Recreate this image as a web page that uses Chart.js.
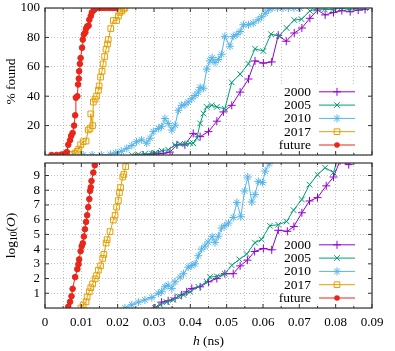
<!DOCTYPE html>
<html><head><meta charset="utf-8">
<script src="https://cdn.jsdelivr.net/npm/chart.js@4/dist/chart.umd.min.js"></script>
<style>
html,body{margin:0;padding:0;background:#fff;}
#wrap{position:relative;width:395px;height:351px;overflow:hidden;background:#fff;}
canvas{position:absolute;left:0;}
#top{top:0;}
#bot{top:158px;}
</style></head><body>
<div id="wrap"><canvas id="top" width="395" height="160"></canvas><canvas id="bot" width="395" height="193"></canvas></div>
<script>
// ---------- categories / tick labels ----------
const seriesNames = ['2000', '2005', '2010', '2017', 'future'];
const xTickLabels = ['0', '0.01', '0.02', '0.03', '0.04', '0.05', '0.06', '0.07', '0.08', '0.09'];
const pctTicks = [0, 20, 40, 60, 80, 100];
const logTicks = [0, 1, 2, 3, 4, 5, 6, 7, 8, 9];

// ---------- top panel: % found ----------
const pctH2000 = [0.027,0.0294,0.0312,0.0326,0.0344,0.0363,0.0385,0.0408,0.0427,0.045,0.0473,0.0491,0.0514,0.0537,0.056,0.0578,0.0601,0.0624,0.0642,0.0664,0.0686,0.0707,0.0729,0.075,0.0771,0.0794,0.0817,0.084,0.0862,0.0881];
const pct2000  = [0,0.5,0.8,1.2,2,6.9,6.9,14.7,12.5,15.9,23,29.3,33.8,42.8,51.7,64,62.5,63.3,81.5,77.4,83,86.4,93,98.6,95.3,96.9,98.2,97.5,98.6,99];

const pctH2005 = [0.0239,0.0257,0.0275,0.0294,0.0303,0.0321,0.0339,0.0358,0.0372,0.0385,0.0399,0.0408,0.0418,0.0427,0.0436,0.0445,0.0459,0.0473,0.0495,0.0514,0.0537,0.056,0.0578,0.0601,0.0622,0.0644,0.0665,0.0686,0.0706,0.0729,0.0748,0.077,0.0793,0.0815,0.0838,0.086,0.0881];
const pct2005  = [0,0.5,0.8,1,1.5,2.9,3.6,6.9,7.6,7.6,8,8,11.4,21.5,28.2,32.7,33.8,32.7,31.5,49.4,55,62,72.3,70.7,82.2,81,86.4,91.8,92.4,98,99.5,99,99,100,98.8,100,100];

const pctH2010 = [0.0055,0.008,0.0105,0.013,0.0155,0.018,0.0195,0.021,0.0225,0.0239,0.0252,0.0266,0.028,0.0289,0.0298,0.0312,0.0321,0.033,0.0339,0.0349,0.0358,0.0367,0.0376,0.0385,0.0394,0.0404,0.0413,0.0422,0.0427,0.0436,0.0445,0.0454,0.046,0.0468,0.0477,0.0486,0.0495,0.0509,0.0518,0.0528,0.0537,0.0546,0.056,0.0573,0.0587,0.0596,0.0606,0.0615,0.0625,0.064,0.0655,0.067,0.0685,0.0702];
const pct2010  = [0,0,0,0,0,0.5,1.5,2.5,4.5,6.5,9,10.3,8,11.4,15.9,18,19.3,24.8,21.5,17,20.3,30.4,33.8,34.2,36,38.3,40.5,42.8,46,45.4,58.4,64,66.2,62.9,65,68.5,80.7,74,80.7,82,84,88.6,88.6,89.7,92,94,96.4,98.6,100,100,100,100,100,100];

const pctH2017 = [0.006,0.0073,0.0083,0.0089,0.0093,0.0098,0.0105,0.0113,0.0119,0.0124,0.0126,0.0131,0.0133,0.0138,0.0142,0.0147,0.0149,0.0153,0.0157,0.016,0.0164,0.0168,0.0172,0.0174,0.0181,0.0188,0.0197,0.0202,0.0206,0.0211,0.0216,0.022];
const pct2017  = [0,0.5,1.3,2.5,4,7,9,9.5,17,18,28,20,36,38,40,44,47,53,57,62,67,72,75.5,78.5,86,91.5,91.5,94.5,97,98,99.3,100];

const pctHFuture = [0.0018,0.0032,0.0045,0.0055,0.006,0.0064,0.0069,0.0072,0.0076,0.008,0.0083,0.0085,0.0089,0.0091,0.0093,0.0094,0.0096,0.0098,0.0102,0.0104,0.0107,0.0111,0.0113,0.0116,0.012,0.0122,0.0126,0.0129,0.0135,0.014,0.0148,0.0156,0.0165,0.0175,0.0185,0.0193];
const pctFuture  = [0,0,0.3,1,2,7,10,13,15,20,27,39,40,48,52,57,62,66,73,78.5,82,83.5,86,87.5,88,92,94.6,97,98.7,100,100,100,100,100,100,100];

// ---------- bottom panel: log10(O) ----------
const logH2000 = [0.0303,0.0321,0.0339,0.0358,0.0376,0.039,0.0404,0.0427,0.045,0.0473,0.0495,0.0518,0.0537,0.0557,0.0577,0.0601,0.0624,0.0642,0.0667,0.0685,0.0707,0.0728,0.075,0.0774,0.0794,0.0812,0.0836,0.086];
const log2000  = [0,0.4,0.49,0.67,0.89,1.1,1.33,1.44,1.78,2.0,2.33,2.33,2.86,3.25,3.84,4.04,3.95,5.28,5.21,5.54,6.47,7.27,7.5,8.3,8.9,10.0,9.74,10.3];

const logH2005 = [0.0303,0.0317,0.0335,0.0353,0.0367,0.0381,0.0399,0.0422,0.0445,0.0454,0.0473,0.0495,0.0514,0.0535,0.0555,0.0578,0.0596,0.0619,0.0642,0.0665,0.0684,0.0707,0.0728,0.075,0.0771,0.0794,0.0805];
const log2005  = [0,0.22,0.4,0.55,0.78,0.89,1.1,1.44,1.78,2.1,2.15,2.33,2.9,3.3,3.66,4.44,4.66,5.59,5.66,5.88,6.65,7.37,8.38,9.05,9.53,9.2,10.1];

const logH2010 = [0.022,0.0239,0.0257,0.0275,0.0294,0.0312,0.0321,0.033,0.0339,0.0349,0.0358,0.0372,0.0381,0.0394,0.0404,0.0413,0.0422,0.0431,0.044,0.0449,0.046,0.0468,0.0477,0.0486,0.0495,0.0505,0.0518,0.0528,0.0539,0.0549,0.0558,0.0569,0.0578,0.0587,0.0599,0.0606,0.0617,0.0625];
const log2010  = [0,0.22,0.4,0.55,0.71,1.0,1.1,1.44,1.55,1.33,1.78,2.1,2.33,2.77,2.88,3.0,3.55,4.0,4.2,4.48,4.84,4.44,4.88,5.43,5.6,5.77,6.15,7.17,6.2,7.95,8.9,7.2,7.7,8.6,8.52,9.3,9.8,10.4];

const logH2017 = [0.0099,0.0105,0.0113,0.0116,0.0122,0.0126,0.0131,0.0138,0.0142,0.0147,0.0153,0.0159,0.0162,0.0168,0.0171,0.0179,0.0188,0.0193,0.0197,0.0202,0.0205,0.0208,0.0214,0.0217,0.0222,0.0226];
const log2017  = [0,0.2,0.42,0.75,1.1,1.38,1.64,1.98,2.2,2.57,2.86,3.37,3.64,4.41,4.64,5.19,5.97,6.3,6.85,7.3,7.85,8.18,8.9,9.07,9.6,10.2];

const logHFuture = [0.0064,0.0069,0.0073,0.0076,0.0083,0.0089,0.0092,0.0094,0.0098,0.0101,0.0104,0.0107,0.011,0.0113,0.0116,0.0119,0.0122,0.0124,0.0126,0.0128,0.0133,0.0137,0.0141];
const logFuture  = [0.09,0.42,0.8,1.3,2.1,2.64,2.97,3.3,3.86,4.2,4.4,4.86,5.35,5.85,6.3,6.85,7.4,7.96,8.2,8.63,9.2,9.7,10.3];

// ---------- styles ----------
const colors = ['#9400D3', '#009E73', '#56B4E9', '#E69F00', '#E8261A'];
const pStyles = ['cross', 'crossRot', 'star', 'rect', 'circle'];
const pRadius = [4, 4, 4, 4, 2.8];
const FONT = "'Liberation Serif', 'Times New Roman', serif";

function pairs(xs, ys) { return xs.map((x, i) => ({ x: x, y: ys[i] })); }

function makeDatasets(hs, vs) {
  return seriesNames.map((name, i) => ({
    label: name,
    data: pairs(hs[i], vs[i]),
    showLine: true,
    borderColor: colors[i],
    backgroundColor: colors[i],
    borderWidth: 1,
    pointStyle: pStyles[i],
    pointRadius: pRadius[i],
    pointHoverRadius: pRadius[i],
    pointBorderWidth: 1,
    pointBorderColor: colors[i],
    pointBackgroundColor: pStyles[i] === 'rect' ? 'rgba(0,0,0,0)' : colors[i],
    order: 5 - i,
    tension: 0
  }));
}

function drawMarker(ctx, style, x, y, r, color) {
  ctx.save();
  ctx.strokeStyle = color; ctx.fillStyle = color; ctx.lineWidth = 1;
  ctx.beginPath();
  const d = r * Math.SQRT1_2;
  if (style === 'cross' || style === 'star') {
    ctx.moveTo(x - r, y); ctx.lineTo(x + r, y);
    ctx.moveTo(x, y - r); ctx.lineTo(x, y + r);
  }
  if (style === 'crossRot' || style === 'star') {
    ctx.moveTo(x - d, y - d); ctx.lineTo(x + d, y + d);
    ctx.moveTo(x - d, y + d); ctx.lineTo(x + d, y - d);
  }
  if (style === 'rect') { ctx.rect(x - d, y - d, 2 * d, 2 * d); }
  ctx.stroke();
  if (style === 'circle') { ctx.beginPath(); ctx.arc(x, y, r, 0, Math.PI * 2); ctx.fill(); }
  ctx.restore();
}

function framePlugin(opts) {
  return {
    id: 'frame' + opts.id,
    afterDraw(chart) {
      const ctx = chart.ctx, a = chart.chartArea;
      const xs = chart.scales.x, ys = chart.scales.y;
      // legend
      ctx.save();
      const n = seriesNames.length;
      const step = 13.3;
      const yLast = a.bottom - 10;
      const yFirst = yLast - (n - 1) * step;
      ctx.fillStyle = '#fff';
      ctx.fillRect(a.right - 93, yFirst - 7.5, 92, yLast - yFirst + 14);
      ctx.font = '13.5px ' + FONT;
      ctx.textAlign = 'right'; ctx.textBaseline = 'middle';
      seriesNames.forEach((name, i) => {
        const y = yFirst + i * step;
        ctx.fillStyle = '#000';
        ctx.fillText(name, a.right - 61, y + 0.5);
        ctx.strokeStyle = colors[i]; ctx.lineWidth = 1;
        ctx.beginPath(); ctx.moveTo(a.right - 53, y); ctx.lineTo(a.right - 17, y); ctx.stroke();
        drawMarker(ctx, pStyles[i], a.right - 35, y, pRadius[i], colors[i]);
      });
      ctx.restore();
      // box
      ctx.save();
      ctx.strokeStyle = '#333'; ctx.lineWidth = 1.2;
      ctx.strokeRect(a.left, a.top, a.right - a.left, a.bottom - a.top);
      // tick marks
      ctx.lineWidth = 1;
      ctx.beginPath();
      for (let i = 0; i <= 18; i++) {
        const px = xs.getPixelForValue(i * 0.005);
        const L = (i % 2 === 0) ? 4 : 2;
        ctx.moveTo(px, a.bottom); ctx.lineTo(px, a.bottom - L);
        ctx.moveTo(px, a.top); ctx.lineTo(px, a.top + L);
      }
      opts.yTicks.forEach(v => {
        const py = ys.getPixelForValue(v);
        ctx.moveTo(a.left, py); ctx.lineTo(a.left + 4, py);
        ctx.moveTo(a.right, py); ctx.lineTo(a.right - 4, py);
      });
      ctx.stroke();
      ctx.restore();
      // titles
      ctx.save();
      ctx.fillStyle = '#000';
      opts.titles(ctx, a);
      ctx.restore();
    }
  };
}

function xScale(showLabels, height, padding) {
  return {
    type: 'linear', min: 0, max: 0.09,
    afterBuildTicks(s) { const t = []; for (let i = 0; i <= 18; i++) t.push({ value: i * 0.005 }); s.ticks = t; },
    afterFit(s) { s.height = height; s.paddingLeft = 0; s.paddingRight = 0; s.paddingTop = 0; s.paddingBottom = 0; },
    grid: { color: '#b4b4b4', lineWidth: 0.8, drawTicks: false },
    border: { display: false, dash: [1, 2] },
    ticks: {
      display: showLabels, padding: padding, maxRotation: 0, autoSkip: false, color: '#000',
      font: { family: FONT, size: 13 },
      callback(v, i) { return (i % 2 === 0) ? xTickLabels[i / 2] : ''; }
    }
  };
}

function yScale(tickVals, max) {
  return {
    type: 'linear', min: 0, max: max,
    afterBuildTicks(s) { s.ticks = tickVals.map(v => ({ value: v })); },
    afterFit(s) { s.width = 45; s.paddingTop = 0; s.paddingBottom = 0; s.paddingLeft = 0; s.paddingRight = 0; },
    grid: { color: '#b4b4b4', lineWidth: 0.8, drawTicks: false },
    border: { display: false, dash: [1, 2] },
    ticks: {
      padding: 5, color: '#000', autoSkip: false,
      font: { family: FONT, size: 13 },
      callback(v) { return v === 0 ? '' : String(v); }
    }
  };
}

const common = {
  responsive: false, devicePixelRatio: 1, animation: false,
  plugins: { legend: { display: false }, tooltip: { enabled: false } },
  events: []
};

new Chart(document.getElementById('top'), {
  type: 'scatter',
  data: { datasets: makeDatasets(
    [pctH2000, pctH2005, pctH2010, pctH2017, pctHFuture],
    [pct2000, pct2005, pct2010, pct2017, pctFuture]) },
  options: Object.assign({}, common, {
    layout: { padding: { top: 8, right: 23, left: 0, bottom: 0 } },
    scales: { x: xScale(false, 3, 0), y: yScale(pctTicks, 100) }
  }),
  plugins: [framePlugin({
    id: 'top', yTicks: pctTicks.slice(1, 5),
    titles(ctx, a) {
      ctx.translate(11, (a.top + a.bottom) / 2);
      ctx.rotate(-Math.PI / 2);
      ctx.font = '13.5px ' + FONT;
      ctx.textAlign = 'center'; ctx.textBaseline = 'middle';
      ctx.fillText('% found', 0, 0);
    }
  })]
});

new Chart(document.getElementById('bot'), {
  type: 'scatter',
  data: { datasets: makeDatasets(
    [logH2000, logH2005, logH2010, logH2017, logHFuture],
    [log2000, log2005, log2010, log2017, logFuture]) },
  options: Object.assign({}, common, {
    layout: { padding: { top: 2, right: 23, left: 0, bottom: 0 } },
    scales: { x: xScale(true, 43, 7), y: yScale(logTicks, 9.85) }
  }),
  plugins: [framePlugin({
    id: 'bot', yTicks: logTicks.slice(1),
    titles(ctx, a) {
      // y title: log10(O)
      ctx.save();
      ctx.translate(11, (a.top + a.bottom) / 2);
      ctx.rotate(-Math.PI / 2);
      ctx.textBaseline = 'middle'; ctx.textAlign = 'left';
      const parts = [
        { t: 'log', f: '13.5px ' + FONT, dy: 0 },
        { t: '10', f: '9.5px ' + FONT, dy: 3 },
        { t: '(', f: '13.5px ' + FONT, dy: 0 },
        { t: 'O', f: 'italic 13.5px ' + FONT, dy: 0 },
        { t: ')', f: '13.5px ' + FONT, dy: 0 }
      ];
      let w = 0;
      parts.forEach(p => { ctx.font = p.f; p.w = ctx.measureText(p.t).width; w += p.w; });
      let x = -w / 2;
      parts.forEach(p => { ctx.font = p.f; ctx.fillText(p.t, x, p.dy); x += p.w; });
      ctx.restore();
      // x title: h (ns)
      ctx.save();
      ctx.textBaseline = 'middle'; ctx.textAlign = 'left';
      const xp = [
        { t: 'h', f: 'italic 13.5px ' + FONT },
        { t: ' (ns)', f: '13.5px ' + FONT }
      ];
      let xw = 0;
      xp.forEach(p => { ctx.font = p.f; p.w = ctx.measureText(p.t).width; xw += p.w; });
      let cx = (a.left + a.right) / 2 - xw / 2;
      xp.forEach(p => { ctx.font = p.f; ctx.fillText(p.t, cx, 183.5); cx += p.w; });
      ctx.restore();
    }
  })]
});
</script>
</body></html>
